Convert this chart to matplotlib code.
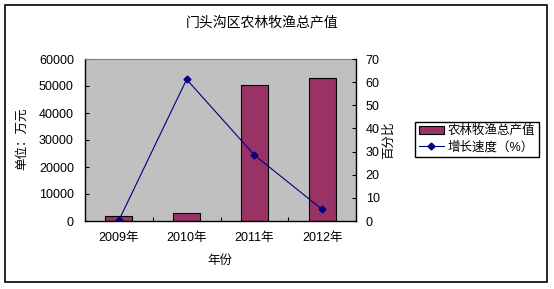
import matplotlib
matplotlib.use('Agg')
import matplotlib.pyplot as plt
from matplotlib.patches import Rectangle, Patch
from matplotlib.lines import Line2D
import numpy as np

plt.rcParams['font.family'] = ['Liberation Sans', 'Noto Sans CJK SC']
plt.rcParams['axes.unicode_minus'] = False

# data
years = ['2009年', '2010年', '2011年', '2012年']
output_value = [1700, 2900, 50500, 53100]      # 万元
growth_rate = [0.3, 61.2, 28.5, 5.0]           # %

fig = plt.figure(figsize=(5.54, 2.89), dpi=100)
fig.patch.set_facecolor('white')
ax = fig.add_axes([85 / 554, 1 - 221 / 289, (356 - 85) / 554, (221 - 59) / 289])
ax.set_facecolor('#C0C0C0')

x = np.arange(len(years))
ax.bar(x, output_value, width=0.4, color='#993366', edgecolor='black', linewidth=0.8, zorder=2)
ax.set_xlim(-0.5, len(years) - 0.5)
ax.set_ylim(0, 60000)
ax.set_yticks(np.arange(0, 60001, 10000))
ax.set_xticks(x)
ax.set_xticklabels(years)
ax.set_xticks(np.arange(0.5, len(years) - 0.5, 1), minor=True)
ax.tick_params(axis='x', which='major', length=0, pad=8, labelsize=9)
ax.tick_params(axis='x', which='minor', direction='in', length=3, width=0.8)
ax.tick_params(axis='y', direction='in', length=3, width=0.8, pad=8, labelsize=9)
ax.spines['top'].set_color('#808080')
ax.spines['right'].set_visible(False)
for s in ['left', 'bottom']:
    ax.spines[s].set_linewidth(1.0)

ax2 = ax.twinx()
ax2.plot(x, growth_rate, color='#000080', linewidth=0.8, marker='D', markersize=3.5,
         markerfacecolor='#000080', markeredgecolor='#000080')
ax2.set_ylim(0, 70)
ax2.set_yticks(np.arange(0, 71, 10))
ax2.tick_params(axis='y', direction='in', length=3, width=0.8, pad=7, labelsize=9)
for s in ['top', 'left', 'bottom']:
    ax2.spines[s].set_visible(False)
ax2.spines['right'].set_linewidth(1.0)

fig.text(262 / 554, 1 - 22 / 289, '门头沟区农林牧渔总产值', ha='center', va='center', fontsize=10)
fig.text(22 / 554, 1 - 139 / 289, '单位：万元', ha='center', va='center', rotation=90, fontsize=9)
fig.text(389 / 554, 1 - 140.5 / 289, '百分比', ha='center', va='center', rotation=90, fontsize=9)
fig.text(220 / 554, 1 - 261 / 289, '年份', ha='center', va='center', fontsize=9)

handles = [Patch(facecolor='#993366', edgecolor='black', linewidth=0.8),
           Line2D([], [], color='#000080', linewidth=0.8, marker='D', markersize=3.5)]
leg = fig.legend(handles, ['农林牧渔总产值', '增长速度（%）'], loc='upper left',
                 bbox_to_anchor=(415 / 554, 1 - 121.5 / 289), bbox_transform=fig.transFigure,
                 fancybox=False, edgecolor='black', framealpha=1, fontsize=9,
                 borderaxespad=0, borderpad=0.3, labelspacing=0.3, handlelength=2.0,
                 handletextpad=0.3)
leg.get_frame().set_linewidth(1.0)

fig.patches.append(Rectangle((5 / 554, 1 - 282 / 289), (547 - 5) / 554, (282 - 5) / 289,
                             transform=fig.transFigure, fill=False, edgecolor='black', linewidth=1.2))

fig.savefig('out.png', dpi=100)
